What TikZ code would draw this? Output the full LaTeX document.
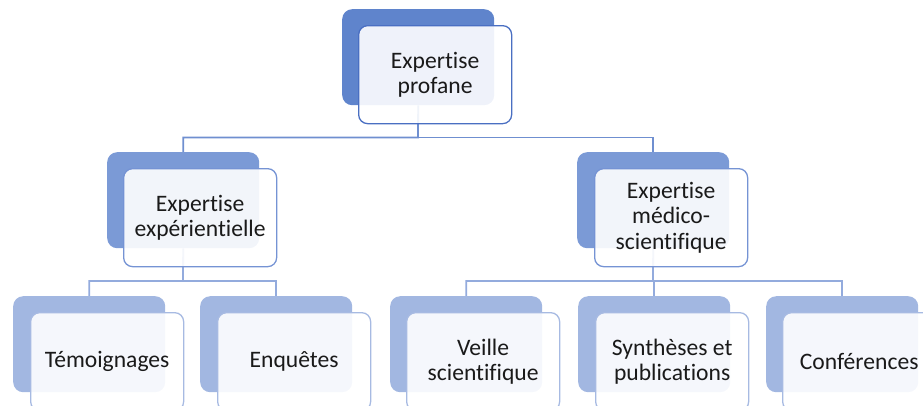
\documentclass[tikz,border=0pt]{standalone}
\usepackage{fontspec}
\setmainfont[Ligatures={NoCommon}]{Carlito}
\usetikzlibrary{backgrounds}
\definecolor{bA}{HTML}{5F84CC}
\definecolor{bB}{HTML}{7B9AD6}
\definecolor{bC}{HTML}{A2B7E1}
\definecolor{oA}{HTML}{4A6FC2}
\definecolor{oB}{HTML}{7593D4}
\definecolor{oC}{HTML}{A7BAE2}
\definecolor{cA}{HTML}{6F8FD0}
\definecolor{cB}{HTML}{93ABDD}
\definecolor{txt}{HTML}{1A1A1A}
\tikzset{
  backbox/.style={anchor=north west, inner sep=0pt, minimum width=152pt, minimum height=96pt, rounded corners=10pt, fill=#1},
  frontbox/.style={anchor=north west, inner sep=0pt, minimum width=153pt, minimum height=98pt, rounded corners=9pt, draw=#1, line width=1.3pt, fill=white, fill opacity=0.9, text opacity=1, text=txt, align=center, font=\fontsize{23.6}{25.5}\selectfont},
  conn/.style={draw=#1, line width=1.8pt}
}
\begin{document}
\begin{tikzpicture}[x=1pt,y=-1pt]
\useasboundingbox (0,0) rectangle (923,405);
\clip (0,0) rectangle (923,405);
% level 1
\node[backbox=bA] (tB) at (342,9) {};
\node[frontbox=oA] (tF) at (358,25) {Expertise\\profane};
% level 2
\node[backbox=bB] (lB) at (107,152) {};
\node[frontbox=oB] (lF) at (123,168) {Expertise\\expérientielle};
\node[backbox=bB] (rB) at (577,152) {};
\node[frontbox=oB] (rF) at (594,168) {Expertise\\médico-\\scientifique};
% level 3
\node[backbox=bC] (b1B) at (13,296) {};
\node[frontbox=oC] (b1F) at (30,312) {Témoignages};
\node[backbox=bC] (b2B) at (200,296) {};
\node[frontbox=oC] (b2F) at (217,312) {Enquêtes};
\node[backbox=bC] (b3B) at (390,296) {};
\node[frontbox=oC] (b3F) at (406,312) {Veille\\scientifique};
\node[backbox=bC] (b4B) at (578,296) {};
\node[frontbox=oC] (b4F) at (595,312) {Synthèses et\\publications};
\node[backbox=bC] (b5B) at (766,296) {};
\node[frontbox=oC] (b5F) at (782,312) {Conférences};
% connectors
\coordinate (j1) at (418,137.5);
\coordinate (j2) at (183,281);
\coordinate (j3) at (653,281);
\begin{scope}[on background layer]
\draw[conn=cA] (tB.south) -- (j1) -| (lB.north);
\draw[conn=cA] (j1) -| (rB.north);
\draw[conn=cB] (lB.south) -- (j2) -| (b1B.north);
\draw[conn=cB] (j2) -| (b2B.north);
\draw[conn=cB] (rB.south) -- (j3) -| (b3B.north);
\draw[conn=cB] (j3) -| (b4B.north);
\draw[conn=cB] (j3) -| (b5B.north);
\end{scope}
\end{tikzpicture}
\end{document}
